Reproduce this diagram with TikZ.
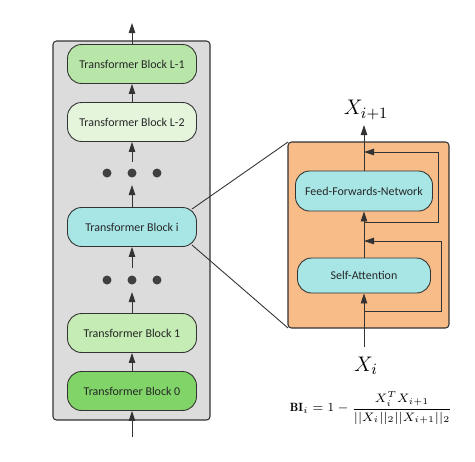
\documentclass[tikz,border=0pt]{standalone}
\usepackage{fontspec}
\setsansfont{Carlito}
\usepackage{amsmath}
\usepackage{xcolor}
\definecolor{panelgray}{HTML}{DCDCDC}
\definecolor{zoomorange}{HTML}{F8BC88}
\definecolor{greenA}{HTML}{B8E6A8}
\definecolor{greenB}{HTML}{E4F5DC}
\definecolor{greenC}{HTML}{C4ECB4}
\definecolor{greenD}{HTML}{80D468}
\definecolor{cyanblk}{HTML}{A8E6E6}
\definecolor{edge}{HTML}{333333}
\usepackage{tikz}
\usetikzlibrary{positioning,arrows.meta,calc}
\pgfdeclarelayer{bottom}
\pgfdeclarelayer{links}
\pgfsetlayers{bottom,links,main}

\begin{document}
\begin{tikzpicture}[x=0.02cm,y=-0.02cm,
	blk/.style={draw=edge,line width=0.5pt,rounded corners=0.28cm,minimum width=2.58cm,minimum height=0.78cm,font=\sffamily\fontsize{6.8}{8}\selectfont,text=black!85},
	dot/.style={circle,fill=black!75,inner sep=0pt,minimum size=0.18cm},
	flow/.style={-{Triangle[length=0.2cm,width=0.13cm]},draw=edge,line width=0.5pt},
	plain/.style={draw=edge,line width=0.5pt}]
	\useasboundingbox (0,0) rectangle (475,461);
	
	% draw panels
	\begin{pgfonlayer}{bottom}
	\draw[fill=panelgray,draw=edge,line width=0.6pt,rounded corners=2pt] (53,41) rectangle (210,420);
	\draw[fill=zoomorange,draw=edge,line width=0.6pt,rounded corners=2pt] (288,142) rectangle (449,328);
	\end{pgfonlayer}
	\coordinate (zoomtl) at (288,142);
	\coordinate (zoombl) at (288,328);
	
	% draw blocks
	\node[blk,fill=greenA] (blkL1) at (132,64) {Transformer Block L-1};
	\node[blk,fill=greenB] (blkL2) at (132,122) {Transformer Block L-2};
	\node[blk,fill=cyanblk] (blki) at (132,227) {Transformer Block i};
	\node[blk,fill=greenC] (blk1) at (132,333) {Transformer Block 1};
	\node[blk,fill=greenD] (blk0) at (132,391) {Transformer Block 0};
	
	% dots
	\node[dot] (dotA1) at (107,173) {};
	\node[dot] (dotA2) at (132,173) {};
	\node[dot] (dotA3) at (157,173) {};
	\node[dot] (dotB1) at (107,280) {};
	\node[dot] (dotB2) at (132,280) {};
	\node[dot] (dotB3) at (157,280) {};
	
	% arrows of the stack
	\coordinate (inp) at (132,437);
	\coordinate (outp) at (132,23);
	\coordinate (dotAlo) at (132,185);
	\coordinate (dotAhi) at (132,162);
	\coordinate (dotBlo) at (132,292);
	\coordinate (dotBhi) at (132,268);
	\draw[flow] (inp) -- (blk0);
	\draw[flow] (blk0) -- (blk1);
	\draw[flow] (blk1) -- (dotBlo);
	\draw[flow] (dotBhi) -- (blki);
	\draw[flow] (blki) -- (dotAlo);
	\draw[flow] (dotAhi) -- (blkL2);
	\draw[flow] (blkL2) -- (blkL1);
	\draw[flow] (blkL1) -- (outp);
	
	% zoom lines
	\begin{pgfonlayer}{links}
	\draw[plain] ($(blki.north east)+(-5,2)$) -- (zoomtl);
	\draw[plain] ($(blki.south east)+(-5,-2)$) -- (zoombl);
	\end{pgfonlayer}
	
	% inside the block
	\node[blk,fill=cyanblk,minimum width=2.74cm,minimum height=0.8cm] (ffn) at (364,191) {Feed-Forwards-Network};
	\node[blk,fill=cyanblk,minimum width=2.66cm,minimum height=0.7cm] (attn) at (364,275.5) {Self-Attention};
	\node[font=\fontsize{12.4}{14}\selectfont] (xnext) at (366,110) {$X_{i+1}$};
	\node[font=\fontsize{12.4}{14}\selectfont] (xcur) at (366,366) {$X_i$};
	\node[font=\fontsize{6.8}{8}\selectfont] (bieq) at (371,408) {$\mathbf{BI}_i = 1 - \dfrac{X_i^T X_{i+1}}{||X_i||_2||X_{i+1}||_2}$};
	\coordinate (xin) at (364,347);
	\coordinate (xtop) at (364,125);
	\coordinate (resAs) at (364,311);
	\coordinate (resAe) at (364,241);
	\coordinate (resBs) at (364,222);
	\coordinate (resBe) at (364,152);
	\draw[flow] (xin) -- (attn);
	\draw[flow] (attn) -- (ffn);
	\draw[flow] (ffn) -- (xtop);
	\draw[flow] (resAs) -- ++(77,0) |- (resAe);
	\draw[flow] (resBs) -- ++(74,0) |- (resBe);
\end{tikzpicture}
\end{document}
